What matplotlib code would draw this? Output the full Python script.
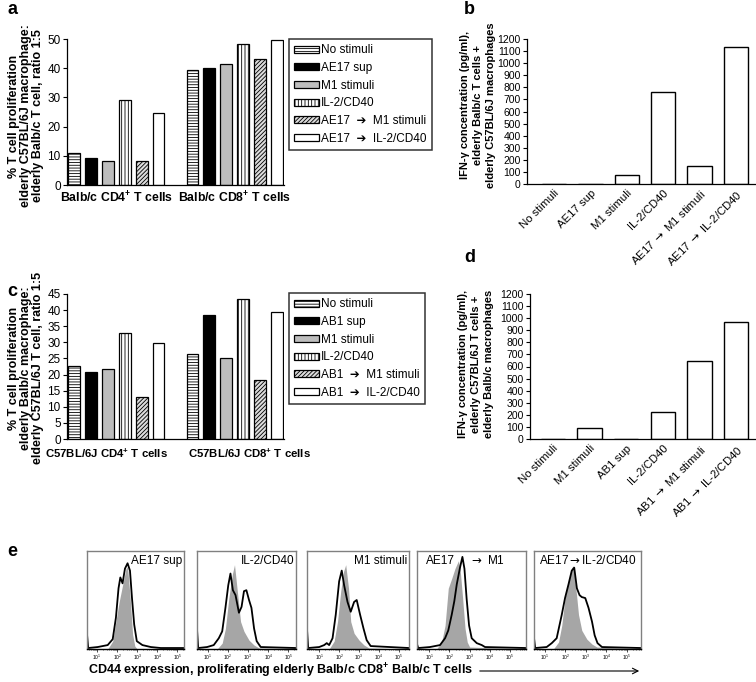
import numpy as np
import matplotlib
matplotlib.use("Agg")
import matplotlib.pyplot as plt

plt.rcParams['font.family'] = ['Liberation Sans', 'DejaVu Sans']
plt.rcParams['mathtext.fontset'] = 'custom'
plt.rcParams['mathtext.rm'] = 'Liberation Sans'
plt.rcParams['mathtext.bf'] = 'Liberation Sans:bold'
plt.rcParams['mathtext.it'] = 'Liberation Sans:italic'
plt.rcParams['mathtext.sf'] = 'DejaVu Sans'
plt.rcParams['hatch.linewidth'] = 0.6

ARR = "$\\mathsf{\\rightarrow}$"

# ---- data ----
stimuli_a = ["No stimuli", "AE17 sup", "M1 stimuli", "IL-2/CD40",
             "AE17  \u2794  M1 stimuli", "AE17  \u2794  IL-2/CD40"]
stimuli_c = ["No stimuli", "AB1 sup", "M1 stimuli", "IL-2/CD40",
             "AB1  \u2794  M1 stimuli", "AB1  \u2794  IL-2/CD40"]
groups_a = ["Balb/c CD4$^{\\mathbf{+}}$ T cells", "Balb/c CD8$^{\\mathbf{+}}$ T cells"]
groups_c = ["C57BL/6J CD4$^{\\mathbf{+}}$ T cells", "C57BL/6J CD8$^{\\mathbf{+}}$ T cells"]
prolif_a_cd4 = [11.0, 9.3, 8.3, 29.0, 8.3, 24.8]
prolif_a_cd8 = [39.3, 40.2, 41.3, 48.2, 43.3, 49.8]
prolif_c_cd4 = [22.7, 20.7, 21.7, 32.9, 13.1, 29.9]
prolif_c_cd8 = [26.4, 38.4, 25.2, 43.6, 18.3, 39.3]

ifn_b_labels = ["No stimuli", "AE17 sup", "M1 stimuli", "IL-2/CD40",
                "AE17 " + ARR + " M1 stimuli", "AE17 " + ARR + " IL-2/CD40"]
ifn_b = [0, 0, 75, 760, 150, 1130]
ifn_d_labels = ["No stimuli", "M1 stimuli", "AB1 sup", "IL-2/CD40",
                "AB1 " + ARR + " M1 stimuli", "AB1 " + ARR + " IL-2/CD40"]
ifn_d = [0, 95, 0, 220, 645, 965]

# panel e histograms, x in log10(CD44), y = relative count
e1_gray_x = [0.5, 1.53, 1.78, 1.94, 2.1, 2.27, 2.44, 2.52, 2.65, 2.77, 2.88, 3.0, 5.33]
e1_gray_y = [0, 0, 0.08, 0.28, 0.48, 0.65, 0.82, 0.84, 0.52, 0.15, 0.03, 0, 0]
e1_line_x = [0.5, 0.56, 1.03, 1.53, 1.78, 1.94, 2.07, 2.16, 2.27, 2.39, 2.52, 2.64, 2.74, 2.85, 2.98, 3.26, 3.68, 4.17, 5.33]
e1_line_y = [0.15, 0.01, 0.02, 0.04, 0.1, 0.32, 0.62, 0.73, 0.67, 0.82, 0.875, 0.8, 0.52, 0.25, 0.08, 0.04, 0.02, 0.01, 0.01]

e2_gray_x = [0.47, 1.47, 1.72, 1.88, 2.05, 2.22, 2.33, 2.47, 2.63, 2.8, 3.05, 3.3, 3.55, 5.38]
e2_gray_y = [0, 0, 0.06, 0.21, 0.52, 0.76, 0.86, 0.59, 0.28, 0.18, 0.09, 0.04, 0.01, 0]
e2_line_x = [0.47, 0.53, 0.97, 1.3, 1.55, 1.72, 1.88, 2.02, 2.13, 2.25, 2.38, 2.55, 2.68, 2.8, 2.92, 3.05, 3.17, 3.3, 3.43, 3.63, 5.38]
e2_line_y = [0.2, 0.01, 0.02, 0.04, 0.11, 0.18, 0.42, 0.65, 0.77, 0.6, 0.55, 0.37, 0.43, 0.59, 0.6, 0.5, 0.42, 0.21, 0.08, 0.02, 0.01]

e3_gray_x = [0.39, 1.5, 1.75, 1.92, 2.08, 2.22, 2.33, 2.47, 2.58, 2.75, 3.0, 3.25, 3.5, 5.5]
e3_gray_y = [0, 0, 0.08, 0.28, 0.59, 0.79, 0.86, 0.62, 0.28, 0.16, 0.09, 0.04, 0.01, 0]
e3_line_x = [0.39, 0.45, 1.0, 1.25, 1.38, 1.5, 1.67, 1.83, 2.0, 2.13, 2.25, 2.42, 2.58, 2.75, 2.88, 3.05, 3.22, 3.38, 3.58, 5.5]
e3_line_y = [0.2, 0.01, 0.02, 0.04, 0.06, 0.04, 0.11, 0.35, 0.69, 0.8, 0.65, 0.48, 0.38, 0.48, 0.5, 0.35, 0.21, 0.09, 0.03, 0.01]

e4_gray_x = [0.39, 1.36, 1.61, 1.78, 1.94, 2.11, 2.27, 2.44, 2.52, 2.65, 2.77, 2.88, 3.0, 5.79]
e4_gray_y = [0, 0, 0.07, 0.24, 0.62, 0.72, 0.82, 0.9, 0.83, 0.52, 0.21, 0.07, 0.02, 0]
e4_line_x = [0.39, 0.45, 1.03, 1.53, 1.78, 1.94, 2.11, 2.24, 2.36, 2.52, 2.64, 2.74, 2.85, 2.97, 3.1, 3.35, 3.6, 3.76, 5.79]
e4_line_y = [0.05, 0.01, 0.02, 0.04, 0.11, 0.19, 0.35, 0.49, 0.66, 0.83, 0.94, 0.82, 0.51, 0.24, 0.11, 0.06, 0.04, 0.02, 0.01]

e5_gray_x = [0.46, 1.41, 1.66, 1.82, 1.98, 2.15, 2.31, 2.39, 2.51, 2.64, 2.8, 3.05, 3.3, 3.54, 5.7]
e5_gray_y = [0, 0, 0.07, 0.24, 0.52, 0.69, 0.83, 0.85, 0.62, 0.35, 0.19, 0.1, 0.05, 0.02, 0]
e5_line_x = [0.46, 0.52, 1.08, 1.33, 1.57, 1.82, 1.98, 2.15, 2.31, 2.43, 2.56, 2.69, 2.8, 2.97, 3.13, 3.3, 3.43, 3.57, 3.79, 5.7]
e5_line_y = [0.11, 0.01, 0.02, 0.06, 0.11, 0.35, 0.52, 0.66, 0.8, 0.83, 0.62, 0.55, 0.53, 0.52, 0.42, 0.28, 0.14, 0.06, 0.02, 0.01]

e_titles = ["AE17 sup", "IL-2/CD40", "M1 stimuli", "AE17 " + ARR + " M1", "AE17" + ARR + "IL-2/CD40"]

# ---- layout helpers ----
W, H = 756, 682
fig = plt.figure(figsize=(W / 100, H / 100), dpi=100)


def px_axes(left, top, right, bottom):
    return fig.add_axes([left / W, 1 - bottom / H, (right - left) / W, (bottom - top) / H])


def ylabel_lines(lines, xs, ycenter, size):
    for txt, x in zip(lines, xs):
        fig.text(x / W, 1 - ycenter / H, txt, rotation=90, ha='center', va='center',
                 fontweight='bold', fontsize=size)


bar_faces = ['white', 'black', '#bdbdbd', 'white', '#dcdcdc', 'white']
bar_hatch = ['------', None, None, '|||||', '////////', None]


def prolif_panel(ax, cd4, cd8, stimuli, groups, ymax, ystep, group_pos, group_fs, leg_top, gpad):
    x1 = np.arange(6)
    x2 = np.arange(6) + 7
    for i in range(6):
        ax.bar([x1[i], x2[i]], [cd4[i], cd8[i]], width=0.7, color=bar_faces[i],
               edgecolor='black', linewidth=0.9, hatch=bar_hatch[i], label=stimuli[i])
    ax.set_xlim(-0.4, 12.4)
    ax.set_ylim(0, ymax)
    ax.set_yticks(np.arange(0, ymax + 1, ystep))
    ax.set_xticks(group_pos)
    ax.set_xticklabels(groups, fontweight='bold', fontsize=group_fs)
    ax.tick_params(axis='x', length=0, pad=gpad)
    ax.tick_params(axis='y', labelsize=8.5, length=3, width=0.8, pad=1.5)
    for s in ['top', 'right']:
        ax.spines[s].set_visible(False)
    for s in ['left', 'bottom']:
        ax.spines[s].set_linewidth(0.9)
    leg = ax.legend(loc='upper left', bbox_to_anchor=(289 / W, 1 - leg_top / H),
                    bbox_transform=fig.transFigure, fontsize=8.5, frameon=True,
                    fancybox=False, edgecolor='black', handlelength=2.1, handleheight=0.55,
                    handletextpad=0.15, labelspacing=0.48, borderpad=0.45, borderaxespad=0)
    leg.get_frame().set_linewidth(1.1)


def ifn_panel(ax, labels, vals, xl):
    x = np.arange(len(vals))
    ax.bar(x, vals, width=0.67, color='white', edgecolor='black', linewidth=1.0)
    ax.set_xlim(xl, 5.52)
    ax.set_ylim(0, 1200)
    ax.set_yticks(np.arange(0, 1201, 100))
    ax.set_xticks(x)
    ax.set_xticklabels(labels, rotation=45, ha='right', rotation_mode='anchor', fontsize=8.2)
    ax.tick_params(axis='x', length=0, pad=3)
    ax.tick_params(axis='y', labelsize=7.5, length=3, width=0.8, pad=1.5)
    for s in ['top', 'right']:
        ax.spines[s].set_visible(False)
    for s in ['left', 'bottom']:
        ax.spines[s].set_linewidth(0.9)


# panel a
ax_a = px_axes(67, 39, 284, 185)
prolif_panel(ax_a, prolif_a_cd4, prolif_a_cd8, stimuli_a, groups_a, 50, 10,
             [2.5, 9.5], 8.8, 39, 4)
ylabel_lines(["% T cell proliferation", "elderly C57BL/6J macrophage:",
              "elderly Balb/c T cell, ratio 1:5"], [14, 26, 38], 116, 9)

# panel c
ax_c = px_axes(67, 294, 284, 439)
prolif_panel(ax_c, prolif_c_cd4, prolif_c_cd8, stimuli_c, groups_c, 45, 5,
             [1.92, 10.35], 8.2, 293, 5.5)
ylabel_lines(["% T cell proliferation", "elderly Balb/c macrophage:",
              "elderly C57BL/6J T cell, ratio 1:5"], [14, 26, 38], 368, 9)

# panel b
ax_b = px_axes(527, 39, 755, 184)
ifn_panel(ax_b, ifn_b_labels, ifn_b, -0.74)
ylabel_lines(["IFN-\u03b3 concentration (pg/ml),", "elderly Balb/c T cells +",
              "elderly C57BL/6J macrophages"], [465, 478, 491], 105, 8)

# panel d
ax_d = px_axes(530, 294, 755, 439)
ifn_panel(ax_d, ifn_d_labels, ifn_d, -0.63)
ylabel_lines(["IFN-\u03b3 concentration (pg/ml),", "elderly C57BL/6J T cells +",
              "elderly Balb/c macrophages"], [463, 476, 489], 364, 8)

# panel e
e_boxes = [(87, 184), (197, 296), (307, 409), (417, 526), (534, 641)]
e_xlims = [(0.5, 5.33), (0.47, 5.38), (0.39, 5.5), (0.39, 5.79), (0.46, 5.7)]
e_data = [(e1_gray_x, e1_gray_y, e1_line_x, e1_line_y),
          (e2_gray_x, e2_gray_y, e2_line_x, e2_line_y),
          (e3_gray_x, e3_gray_y, e3_line_x, e3_line_y),
          (e4_gray_x, e4_gray_y, e4_line_x, e4_line_y),
          (e5_gray_x, e5_gray_y, e5_line_x, e5_line_y)]
minor = [np.log10(k * 10.0 ** n) for n in range(0, 6) for k in range(2, 10)]
for i, ((l, r), (gx, gy, lx, ly)) in enumerate(zip(e_boxes, e_data)):
    ax = px_axes(l, 551, r, 649)
    ax.fill_between(gx, gy, 0, color='#a6a6a6', linewidth=0)
    ax.plot(lx, ly, color='black', linewidth=1.3)
    ax.set_xlim(*e_xlims[i])
    ax.set_ylim(0, 1.0)
    ax.set_yticks([])
    ax.set_xticks([1, 2, 3, 4, 5])
    ax.set_xticklabels(['$10^{%d}$' % k for k in range(1, 6)], fontsize=3.5)
    ax.set_xticks([m for m in minor if e_xlims[i][0] < m < e_xlims[i][1]], minor=True)
    ax.tick_params(axis='x', which='major', length=2, width=0.5, pad=1)
    ax.tick_params(axis='x', which='minor', length=1, width=0.4)
    for s in ['top', 'right', 'left']:
        ax.spines[s].set_color('#808080')
        ax.spines[s].set_linewidth(1.0)
    ax.spines['bottom'].set_linewidth(1.0)
    if i == 3:
        ax.text(0.08, 0.9, "AE17", transform=ax.transAxes, fontsize=8.5, ha='left', va='center')
        ax.text(0.49, 0.9, ARR + " M1", transform=ax.transAxes, fontsize=8.5, ha='left', va='center')
    elif i == 4:
        ax.text(0.5, 0.9, e_titles[i], transform=ax.transAxes, fontsize=8.5, ha='center', va='center')
    else:
        ax.text(0.98, 0.9, e_titles[i], transform=ax.transAxes, fontsize=8.5, ha='right', va='center')

fig.text(88 / W, 1 - 671 / H, "CD44 expression, proliferating elderly Balb/c CD8$^{\\mathbf{+}}$ Balb/c T cells",
         fontweight='bold', fontsize=9, ha='left', va='center')
fig.add_artist(matplotlib.patches.FancyArrowPatch((477 / W, 1 - 671 / H), (642 / W, 1 - 671 / H),
                                                  transform=fig.transFigure, arrowstyle='->',
                                                  mutation_scale=10, linewidth=0.8, color='black'))

# panel letters
for letter, (x, y) in zip("abcde", [(7, 10), (464, 10), (7, 291), (464, 257), (7, 551)]):
    fig.text(x / W, 1 - y / H, letter, fontsize=13, fontweight='bold', ha='left', va='center')

fig.savefig("out.png", dpi=100)
